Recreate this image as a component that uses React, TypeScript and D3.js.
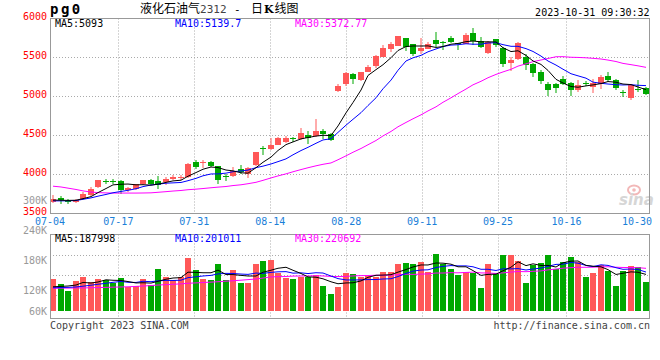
import React from "react";
import * as d3 from "d3";

// ---------- data ----------
const dateLabels = ["07-04", "07-17", "07-31", "08-14", "08-28", "09-11", "09-25", "10-16", "10-30"];
const dateLabelIndex = [0, 9, 19, 29, 39, 49, 59, 68, 78];

const opens = [
  3649, 3704, 3662, 3649, 3691, 3734, 3841, 3922, 3918, 3914,
  3798, 3820, 3875, 3927, 3914, 3905, 3939, 3965, 3969, 4162,
  4155, 4162, 4106, 3985, 3982, 4068, 4012, 4119, 4335, 4324,
  4376, 4418, 4465, 4453, 4504, 4491, 4555, 4513, 5068, 5162,
  5290, 5213, 5312, 5385, 5508, 5610, 5645, 5751, 5667, 5581,
  5610, 5726, 5700, 5751, 5680, 5674, 5820, 5713, 5559, 5734,
  5628, 5431, 5486, 5508, 5422, 5315, 5157, 5166, 5230, 5179,
  5080, 5170, 5123, 5166, 5260, 5217, 5055, 4982, 5100, 5110,
];
const highs = [
  3734, 3721, 3683, 3690, 3777, 3841, 3935, 3948, 3948, 3927,
  3841, 3884, 3935, 3948, 3978, 3969, 3991, 3999, 4149, 4191,
  4183, 4170, 4110, 4003, 4097, 4119, 4093, 4290, 4363, 4462,
  4482, 4495, 4482, 4597, 4555, 4709, 4581, 4538, 5154, 5312,
  5300, 5320, 5405, 5533, 5654, 5705, 5782, 5755, 5674, 5747,
  5696, 5833, 5709, 5782, 5690, 5812, 5884, 5764, 5713, 5743,
  5640, 5508, 5700, 5551, 5431, 5337, 5187, 5170, 5260, 5187,
  5209, 5200, 5230, 5273, 5315, 5230, 5080, 5166, 5217, 5123,
];
const lows = [
  3636, 3627, 3627, 3636, 3670, 3726, 3832, 3875, 3875, 3756,
  3777, 3798, 3862, 3862, 3820, 3862, 3927, 3927, 3961, 4076,
  4089, 4097, 3884, 3918, 3969, 4012, 3961, 4110, 4247, 4312,
  4376, 4405, 4418, 4440, 4397, 4482, 4453, 4431, 5059, 5141,
  5162, 5200, 5312, 5363, 5504, 5568, 5645, 5577, 5517, 5546,
  5603, 5632, 5590, 5683, 5590, 5667, 5657, 5628, 5551, 5636,
  5380, 5328, 5474, 5337, 5251, 5157, 5004, 5046, 5145, 5004,
  5059, 5132, 5046, 5102, 5187, 5089, 4995, 4952, 5059, 5016,
];
const closes = [
  3691, 3670, 3657, 3679, 3756, 3820, 3927, 3918, 3914, 3798,
  3832, 3875, 3927, 3884, 3862, 3948, 3969, 3970, 4140, 4097,
  4162, 4110, 3935, 3982, 4046, 4038, 4085, 4286, 4330, 4376,
  4462, 4462, 4458, 4526, 4462, 4555, 4513, 4440, 5141, 5303,
  5218, 5312, 5376, 5513, 5619, 5667, 5773, 5632, 5546, 5619,
  5674, 5674, 5690, 5696, 5667, 5790, 5713, 5636, 5700, 5657,
  5422, 5465, 5687, 5401, 5303, 5200, 5080, 5115, 5166, 5080,
  5153, 5166, 5179, 5251, 5209, 5110, 5050, 5145, 5094, 5038,
];
const volumes = [
  165000, 139000, 103000, 155000, 175000, 150000, 165000, 160000, 143000, 170000,
  122000, 129000, 165000, 134000, 217000, 175000, 160000, 175000, 275000, 212000,
  165000, 160000, 243000, 160000, 212000, 144000, 144000, 243000, 258000, 263000,
  195000, 170000, 165000, 175000, 175000, 187000, 129000, 88000, 124000, 196000,
  191000, 177000, 181000, 177000, 201000, 201000, 243000, 248000, 243000, 253000,
  201000, 294000, 243000, 217000, 186000, 201000, 196000, 119000, 243000, 191000,
  289000, 289000, 258000, 144000, 237000, 248000, 289000, 217000, 253000, 279000,
  253000, 175000, 196000, 237000, 206000, 129000, 206000, 232000, 227000, 150000,
];

// moving averages before enough history is on screen
const ma5Head = [3672, 3670, 3668, 3670];
const ma10Head = [3662, 3662, 3663, 3666, 3682, 3700, 3722, 3744, 3766];
const ma30Head = [
  3850, 3840, 3825, 3808, 3790, 3775, 3768, 3764, 3762, 3762,
  3762, 3762, 3763, 3765, 3772, 3780, 3788, 3795, 3805, 3812,
  3820, 3830, 3838, 3846, 3858, 3868, 3882, 3900, 3925,
];
const vma5Head = [125000, 127000, 129000, 134000];
const vma10Head = [120000, 121000, 122000, 124000, 128000, 133000, 138000, 143000, 148000];
const vma30Head = [
  117000, 118000, 118000, 119000, 119000, 120000, 121000, 122000, 123000, 124000,
  125000, 127000, 129000, 131000, 134000, 136000, 138000, 140000, 143000, 145000,
  147000, 149000, 151000, 154000, 156000, 159000, 162000, 165000, 170000,
];

const priceTicks = [6000, 5500, 5000, 4500, 4000, 3500];
const volTicks = [300000, 240000, 180000, 120000, 60000];
const mainLegend = ["MA5:5093", "MA10:5139.7", "MA30:5372.77"];
const volLegend = ["MA5:187998", "MA10:201011", "MA30:220692"];
const legendColors = ["#000000", "#0000ff", "#ff00ff"];
const titleName = "液化石油气";
const titleCode = "2312";
const titleKind = ["日", "K", "线图"];
const symbol = "pg0";
const timestamp = "2023-10-31 09:30:32";
const copyright = "Copyright 2023 SINA.COM";
const siteUrl = "http://finance.sina.com.cn";

// ---------- helpers ----------
function movingAverage(vals: number[], n: number, head: number[]): number[] {
  return vals.map((v, i) => (i < n - 1 ? head[i] : (d3.mean(vals.slice(i - n + 1, i + 1)) as number)));
}

const MONO = "'DejaVu Sans Mono', monospace";
const RED = "#ff5858";
const GREEN = "#00a800";
const GRID = "#aaaaaa";
const FRAME = "#999999";

export default function App() {
  const N = closes.length;
  const idx = d3.range(N);
  const L = 50, R = 650;
  const mainTop = 18.5, mainBottom = 213.5;
  const volTop = 234.5, volBottom = 318.5, volBase = 311;

  const x = d3.scaleBand<number>().domain(idx).range([L, R]).padding(0);
  const gx = d3.scaleLinear().domain([0, N - 1]).range([L, R]);
  const y = d3.scaleLinear().domain([3500, 6000]).range([mainBottom, mainTop]);
  const vy = d3.scaleLinear().domain([0, 400000]).range([volBase, 233.5]);
  const vLabel = d3.scaleLinear().domain([0, 300000]).range([350, 200]);

  const bx = (i: number) => Math.round(x(i) as number);
  const cx = (i: number) => bx(i) + 2.5;

  const ma5 = movingAverage(closes, 5, ma5Head);
  const ma10 = movingAverage(closes, 10, ma10Head);
  const ma30 = movingAverage(closes, 30, ma30Head);
  const vma5 = movingAverage(volumes, 5, vma5Head);
  const vma10 = movingAverage(volumes, 10, vma10Head);
  const vma30 = movingAverage(volumes, 30, vma30Head);

  const priceLine = d3.line<number>().x((_, i) => cx(i) + 0.5).y((v) => y(v));
  const volLine = d3.line<number>().x((_, i) => cx(i) + 0.5).y((v) => vy(v));

  const gridXs = dateLabelIndex.slice(1, 8).map((i) => Math.round(gx(i)) + 0.5);
  const volGrid = d3.range(1, 4).map((k) => Math.floor(236 + k * 19.75) + 0.5);

  return (
    <svg
      width={660}
      height={360}
      viewBox="0 0 660 360"
      style={{ position: "fixed", left: 0, top: 0, background: "#fff" }}
    >
      <rect x={0} y={0} width={660} height={360} fill="#fff" />

      {/* header */}
      <text x={50} y={14} fontFamily={MONO} fontWeight="bold" fontSize={14} letterSpacing={2.5} fill="#000">
        {symbol}
      </text>
      <text x={140} y={13} fontFamily="'Noto Sans CJK SC', sans-serif" fontSize={12} fill="#000">
        {titleName}
        <tspan fontFamily={MONO} fontSize={11} fill="#444">{titleCode}</tspan>
      </text>
      <text x={234} y={13} fontFamily={MONO} fontSize={11} fill="#000">-</text>
      <text x={251} y={13} fontFamily="'Noto Sans CJK SC', sans-serif" fontSize={12} fill="#000">
        {titleKind[0]}
        <tspan fontFamily="'DejaVu Serif', serif" fontWeight="bold" fontSize={11} dx={1}>{titleKind[1]}</tspan>
        <tspan dx={1}>{titleKind[2]}</tspan>
      </text>
      <text x={649.5} y={16} textAnchor="end" fontFamily={MONO} fontSize={10} fill="#000">
        {timestamp}
      </text>

      {/* main grid */}
      {priceTicks.slice(1, 5).map((t) => (
        <line key={"hg" + t} x1={L} x2={R} y1={y(t)} y2={y(t)} stroke={GRID} strokeDasharray="1,2" />
      ))}
      {gridXs.map((gxv, k) => (
        <line key={"vg" + k} x1={gxv} x2={gxv} y1={mainTop} y2={mainBottom} stroke={GRID} strokeDasharray="1,2" />
      ))}
      {/* vol grid */}
      {volGrid.map((gy, k) => (
        <line key={"vhg" + k} x1={L} x2={R} y1={gy} y2={gy} stroke={GRID} strokeDasharray="1,2" />
      ))}
      {gridXs.map((gxv, k) => (
        <line key={"vvg" + k} x1={gxv} x2={gxv} y1={volTop} y2={volBottom} stroke={GRID} strokeDasharray="1,2" />
      ))}

      {/* sina watermark */}
      <ellipse cx={634} cy={190} rx={6} ry={4.5} fill="none" stroke="#f2b8b8" strokeWidth={2} />
      <circle cx={634} cy={190} r={1.8} fill="#f2b8b8" />
      <text x={619} y={205} fontFamily="'DejaVu Sans', sans-serif" fontStyle="italic" fontWeight="bold" fontSize={15} fill="#d6d6d6">
        sina
      </text>

      {/* candles */}
      {idx.map((i) => {
        const o = opens[i], c = closes[i];
        const up = c >= o;
        const col = up ? RED : GREEN;
        const top = Math.round(y(Math.max(o, c)));
        const bot = Math.round(y(Math.min(o, c)));
        return (
          <g key={"c" + i}>
            <line x1={cx(i) + 0.5} x2={cx(i) + 0.5} y1={Math.round(y(highs[i]))} y2={Math.round(y(lows[i]))} stroke={col} />
            <rect x={bx(i)} y={top} width={6} height={Math.max(1, bot - top)} fill={col} />
          </g>
        );
      })}

      {/* MA lines */}
      <path d={priceLine(ma30) as string} fill="none" stroke="#ff00ff" strokeWidth={1} />
      <path d={priceLine(ma10) as string} fill="none" stroke="#0000ff" strokeWidth={1} />
      <path d={priceLine(ma5) as string} fill="none" stroke="#000000" strokeWidth={1} />

      {/* volume bars */}
      {idx.map((i) => {
        const top = Math.round(vy(volumes[i]));
        return (
          <rect
            key={"v" + i}
            x={bx(i)}
            y={top}
            width={6}
            height={volBase - top}
            fill={closes[i] >= opens[i] ? RED : GREEN}
          />
        );
      })}
      <path d={volLine(vma30) as string} fill="none" stroke="#ff00ff" strokeWidth={1} />
      <path d={volLine(vma10) as string} fill="none" stroke="#0000ff" strokeWidth={1} />
      <path d={volLine(vma5) as string} fill="none" stroke="#000000" strokeWidth={1} />

      {/* frames */}
      <rect x={50.5} y={mainTop} width={599} height={mainBottom - mainTop} fill="none" stroke={FRAME} />
      <rect x={50.5} y={volTop} width={599} height={volBottom - volTop} fill="none" stroke={FRAME} />

      {/* legends */}
      {mainLegend.map((s, k) => (
        <text key={"ml" + k} x={55 + k * 120} y={27} fontFamily={MONO} fontSize={10} fill={legendColors[k]}>
          {s}
        </text>
      ))}
      {volLegend.map((s, k) => (
        <text key={"vl" + k} x={55 + k * 120} y={242} fontFamily={MONO} fontSize={10} fill={legendColors[k]}>
          {s}
        </text>
      ))}

      {/* price axis labels */}
      {priceTicks.map((t) => (
        <text key={"pt" + t} x={47} y={y(t) + 1} textAnchor="end" fontFamily={MONO} fontSize={10} fill="#ff0000">
          {t}
        </text>
      ))}
      {/* volume axis labels */}
      {volTicks.map((t) => (
        <text
          key={"vt" + t}
          x={47}
          y={Math.min(vLabel(t), volBase) + 3.5}
          textAnchor="end"
          fontFamily={MONO}
          fontSize={10}
          fill="#999999"
        >
          {t / 1000 + "K"}
        </text>
      ))}

      {/* date labels */}
      {dateLabels.map((d, k) => {
        const last = k === dateLabels.length - 1;
        return (
          <text
            key={"d" + k}
            x={last ? 652 : gx(dateLabelIndex[k])}
            y={225}
            textAnchor={last ? "end" : "middle"}
            fontFamily={MONO}
            fontSize={10}
            fill="#1a80d8"
          >
            {d}
          </text>
        );
      })}

      {/* footer */}
      <text x={50} y={329} fontFamily={MONO} fontSize={10} fill="#444">
        {copyright}
      </text>
      <text x={650} y={329} textAnchor="end" fontFamily={MONO} fontSize={10} fill="#444">
        {siteUrl}
      </text>
    </svg>
  );
}
